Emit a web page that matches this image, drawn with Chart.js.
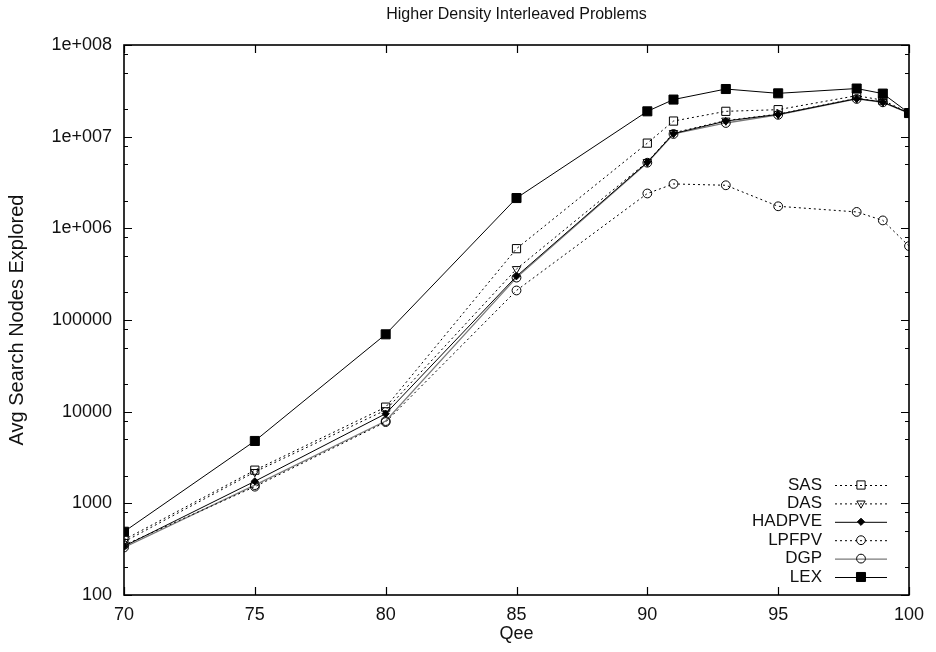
<!DOCTYPE html>
<html>
<head>
<meta charset="utf-8">
<title>Higher Density Interleaved Problems</title>
<script src="https://cdn.jsdelivr.net/npm/chart.js@4/dist/chart.umd.min.js"></script>
<style>
  html, body { margin: 0; padding: 0; background: #fff; }
</style>
</head>
<body>
<canvas id="qeeChart" width="936" height="652"></canvas>
<script>
// ---- data
var qee = [70, 75, 80, 85, 90, 91, 93, 95, 98, 99, 100];

var sasVals    = [400, 2300, 11200, 600000, 8500000, 14800000, 18900000, 19700000, 28000000, 25000000, 18100000];
var dasVals    = [380, 2200, 10400, 360000, 5300000, 11000000, 15000000, 17600000, 26200000, 24000000, 18100000];
var hadpveVals = [340, 1740, 9500, 300000, 5250000, 10800000, 14800000, 17500000, 26000000, 23900000, 18100000];
var lpfpvVals  = [350, 1520, 7700, 210000, 2400000, 3050000, 2950000, 1740000, 1510000, 1220000, 640000];
var dgpVals    = [330, 1580, 7900, 290000, 5200000, 10700000, 14100000, 17300000, 25800000, 23700000, 18000000];
var lexVals    = [490, 4790, 69800, 2140000, 18900000, 25400000, 33100000, 29700000, 33500000, 29500000, 18100000];

var xTickValues = [70, 75, 80, 85, 90, 95, 100];
var yTickValues = [1e2, 1e3, 1e4, 1e5, 1e6, 1e7, 1e8];
var yTickLabels = ['100', '1000', '10000', '100000', '1e+006', '1e+007', '1e+008'];
var yMinorMult = [2, 5, 8];

var FONT = '"Liberation Sans", Arial, Helvetica, sans-serif';
var INK = '#111';

function pts(vals) {
  return qee.map(function (q, i) { return { x: q, y: vals[i] }; });
}

function series(label, vals, opts) {
  return Object.assign({
    label: label,
    data: pts(vals),
    borderColor: '#000',
    borderWidth: 1,
    backgroundColor: 'rgba(0,0,0,0)',
    pointBorderColor: '#000',
    pointBorderWidth: 1,
    pointBackgroundColor: 'rgba(0,0,0,0)',
    pointHoverRadius: 0,
    fill: false,
    tension: 0
  }, opts);
}

var datasets = [
  series('SAS', sasVals, { borderDash: [2, 3], pointStyle: 'rect', pointRadius: 5.8 }),
  series('DAS', dasVals, { borderDash: [2, 3], pointStyle: 'triangle', pointRotation: 180, pointRadius: 4.8 }),
  series('HADPVE', hadpveVals, { pointStyle: 'rectRot', pointRadius: 3.6, pointBackgroundColor: '#000' }),
  series('LPFPV', lpfpvVals, { borderDash: [2, 3], pointStyle: 'circle', pointRadius: 4.4 }),
  series('DGP', dgpVals, { borderColor: '#7a7a7a', borderWidth: 1.3, pointStyle: 'circle', pointRadius: 4.4 }),
  series('LEX', lexVals, { pointStyle: 'rect', pointRadius: 6.4, pointBackgroundColor: '#000' })
];

//////// frame + inward ticks, gnuplot style
var frameTicks = {
  id: 'frameTicks',
  beforeDatasetsDraw: function (chart) {
    var ctx = chart.ctx, a = chart.chartArea;
    var xs = chart.scales.x, ys = chart.scales.y;
    ctx.save();
    ctx.strokeStyle = '#000';
    ctx.lineWidth = 1.6;
    ctx.strokeRect(a.left, a.top, a.right - a.left, a.bottom - a.top);
    ctx.lineWidth = 1.2;
    ctx.beginPath();
    xTickValues.forEach(function (v) {
      var px = Math.round(xs.getPixelForValue(v)) + 0.5;
      ctx.moveTo(px, a.bottom); ctx.lineTo(px, a.bottom - 8);
      ctx.moveTo(px, a.top); ctx.lineTo(px, a.top + 8);
    });
    yTickValues.forEach(function (v, i) {
      var py = Math.round(ys.getPixelForValue(v)) + 0.5;
      ctx.moveTo(a.left, py); ctx.lineTo(a.left + 8, py);
      ctx.moveTo(a.right, py); ctx.lineTo(a.right - 8, py);
      if (i < yTickValues.length - 1) {
        yMinorMult.forEach(function (m) {
          var my = Math.round(ys.getPixelForValue(v * m)) + 0.5;
          ctx.moveTo(a.left, my); ctx.lineTo(a.left + 4, my);
          ctx.moveTo(a.right, my); ctx.lineTo(a.right - 4, my);
        });
      }
    });
    ctx.stroke();
    ctx.restore();
  },
  afterDraw: function (chart) {
    var ctx = chart.ctx, a = chart.chartArea;
    ctx.save();
    // title, centred over the plot box
    ctx.fillStyle = INK;
    ctx.font = '16px ' + FONT;
    ctx.textAlign = 'center';
    ctx.textBaseline = 'middle';
    ctx.fillText('Higher Density Interleaved Problems', (a.left + a.right) / 2, 15);

    // key in the lower right corner: text, then sample line + marker
    var textRight = a.right - 87, lineL = a.right - 74, lineR = a.right - 22;
    var rowY = a.bottom - 110, step = 18.4;
    ctx.font = '17px ' + FONT;
    ctx.textAlign = 'right';
    chart.data.datasets.forEach(function (ds, i) {
      var y = rowY + i * step;
      ctx.fillStyle = INK;
      ctx.fillText(ds.label, textRight, y);
      ctx.save();
      ctx.strokeStyle = ds.borderColor;
      ctx.lineWidth = ds.borderWidth;
      ctx.setLineDash(ds.borderDash || []);
      ctx.beginPath();
      ctx.moveTo(lineL, y + 0.5); ctx.lineTo(lineR, y + 0.5);
      ctx.stroke();
      ctx.setLineDash([]);
      ctx.strokeStyle = ds.pointBorderColor;
      ctx.fillStyle = ds.pointBackgroundColor;
      ctx.lineWidth = ds.pointBorderWidth;
      if (Chart.helpers && Chart.helpers.drawPoint) {
        Chart.helpers.drawPoint(ctx, {
          pointStyle: ds.pointStyle,
          radius: ds.pointRadius,
          rotation: ds.pointRotation || 0,
          borderWidth: ds.pointBorderWidth
        }, (lineL + lineR) / 2, y);
      }
      ctx.restore();
    });
    ctx.restore();
  }
};

new Chart(document.getElementById('qeeChart'), {
  type: 'line',
  data: { datasets: datasets },
  options: {
    responsive: false,
    animation: false,
    events: [],
    layout: { padding: { top: 45, right: 27, left: 0, bottom: 0 } },
    plugins: {
      legend: { display: false },
      title: { display: false },
      tooltip: { enabled: false }
    },
    scales: {
      x: {
        type: 'linear',
        min: 70,
        max: 100,
        afterBuildTicks: function (scale) {
          scale.ticks = xTickValues.map(function (v) { return { value: v }; });
        },
        afterFit: function (scale) { scale.height = 57; },
        grid: { display: false, drawTicks: false },
        border: { display: false },
        ticks: {
          padding: 9,
          autoSkip: false,
          maxRotation: 0,
          color: INK,
          font: { family: FONT, size: 18 },
          callback: function (v) { return String(v); }
        },
        title: {
          display: true,
          text: 'Qee',
          color: INK,
          font: { family: FONT, size: 18 },
          padding: { top: 0, bottom: 7 }
        }
      },
      y: {
        type: 'logarithmic',
        min: 100,
        max: 1e8,
        afterBuildTicks: function (scale) {
          scale.ticks = yTickValues.map(function (v) { return { value: v, major: true }; });
        },
        afterFit: function (scale) { scale.width = 124; },
        grid: { display: false, drawTicks: false },
        border: { display: false },
        ticks: {
          padding: 12,
          autoSkip: false,
          color: INK,
          font: { family: FONT, size: 18 },
          callback: function (v) {
            var i = yTickValues.indexOf(v);
            return i >= 0 ? yTickLabels[i] : '';
          }
        },
        title: {
          display: true,
          text: 'Avg Search Nodes Explored',
          color: INK,
          font: { family: FONT, size: 20 },
          padding: { top: 5, bottom: 0 }
        }
      }
    }
  },
  plugins: [frameTicks]
});
</script>
</body>
</html>
